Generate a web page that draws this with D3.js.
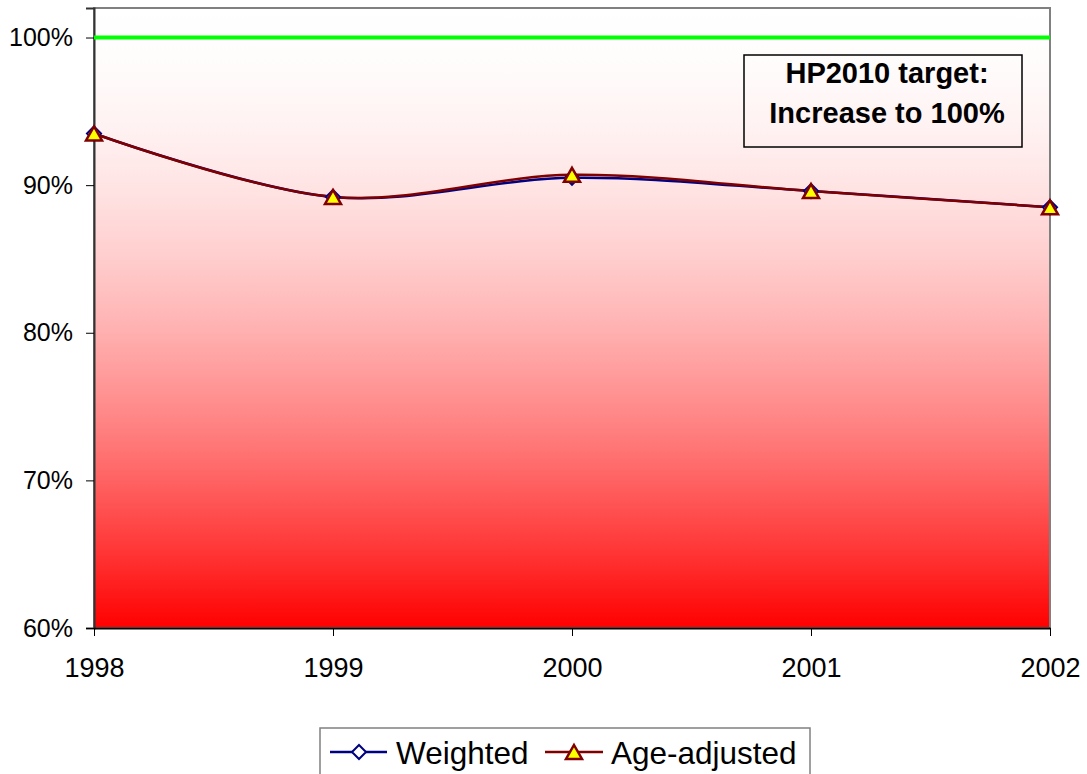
<!DOCTYPE html>
<html>
<head>
<meta charset="utf-8">
<script src="https://cdn.jsdelivr.net/npm/d3@7"></script>
<style>
  body { margin: 0; background: #fff; }
  svg { display: block; font-family: "Liberation Sans", Arial, sans-serif; }
</style>
</head>
<body>
<svg id="svg" width="1087" height="774"></svg>
<script>
// chart data
const years = ["1998", "1999", "2000", "2001", "2002"];
const weighted = [93.5, 89.2, 90.5, 89.6, 88.5];
const ageAdjusted = [93.5, 89.2, 90.7, 89.6, 88.5];
const yTicks = [60, 70, 80, 90, 100];
const target = 100;
const boxLines = ["HP2010 target:", "Increase to 100%"];

var margin = {top: 8, right: 37, bottom: 146, left: 94};
var width = 1087 - margin.left - margin.right;
var height = 774 - margin.top - margin.bottom;

const svg = d3.select("#svg");

var x = d3.scalePoint().domain(years).range([0, width]);
var y = d3.scaleLinear().domain([60, 102]).range([height, 0]);

// background gradient, white at top fading into red (non-linear like the original)
let grad = svg.append("defs").append("linearGradient")
  .attr("id", "bg").attr("x1", 0).attr("y1", 0).attr("x2", 0).attr("y2", 1);
let mix = d3.interpolateRgb("#ffffff", "#ff0000");
grad.selectAll("stop").data(d3.range(0, 1.0001, 0.1)).enter().append("stop")
  .attr("offset", d => (d * 100) + "%")
  .attr("stop-color", d => mix(Math.pow(d, 1.8)));

const g = svg.append("g")
  .attr("transform", "translate(" + margin.left + "," + margin.top + ")");

g.append("rect")
  .attr("width", width).attr("height", height)
  .style("fill", "url(#bg)")
  .style("stroke", "#808080").style("stroke-width", 2);

// y axis
g.append("g")
  .call(d3.axisLeft(y).tickValues(yTicks).tickSize(8).tickPadding(13)
    .tickFormat(d => d + "%"))
  .call(a => a.select(".domain").attr("stroke", "#333").attr("stroke-width", 2))
  .call(a => a.selectAll("text").style("font-size", "25px").attr("fill", "#000"));

// x axis
g.append("g")
  .attr("transform", "translate(0," + height + ")")
  .call(d3.axisBottom(x).tickSize(8).tickPadding(22).tickSizeOuter(0))
  .call(a => a.select(".domain").attr("stroke", "#000").attr("stroke-width", 2))
  .call(a => a.selectAll("text").style("font-size", "27px").attr("fill", "#000"));

// target line
g.append("line")
  .attr("x1", 0).attr("x2", width)
  .attr("y1", y(target)).attr("y2", y(target))
  .attr("stroke", "#00ff00").attr("stroke-width", 4);

// series
var line = d3.line()
  .x((d, i) => x(years[i]))
  .y(d => y(d))
  .curve(d3.curveCatmullRom.alpha(0.5));

g.append("path").datum(weighted)
  .attr("d", line).attr("fill", "none")
  .attr("stroke", "#000080").attr("stroke-width", 2.5);

g.append("path").datum(ageAdjusted)
  .attr("d", line).attr("fill", "none")
  .attr("stroke", "#800000").attr("stroke-width", 2.5);

const diamond = "M0,-7L7,0L0,7L-7,0Z";
const triangle = "M0,-8L8,6L-8,6Z";

g.selectAll(".dia").data(weighted).enter().append("path")
  .attr("class", "dia")
  .attr("transform", (d, i) => "translate(" + x(years[i]) + "," + y(d) + ")")
  .attr("d", diamond)
  .attr("fill", "#fff").attr("stroke", "#000080").attr("stroke-width", 2);

g.selectAll(".tri").data(ageAdjusted).enter().append("path")
  .attr("class", "tri")
  .attr("transform", (d, i) => "translate(" + x(years[i]) + "," + (y(d) + 1) + ")")
  .attr("d", triangle)
  .attr("fill", "#ffff00").attr("stroke", "#800000").attr("stroke-width", 2.5);

// annotation box
const box = svg.append("g");
box.append("rect")
  .attr("x", 744).attr("y", 55).attr("width", 278).attr("height", 92)
  .attr("fill", "none").attr("stroke", "#000").attr("stroke-width", 1.5);
box.selectAll("text").data(boxLines).enter().append("text")
  .attr("x", 887).attr("y", (d, i) => 83 + i * 40)
  .attr("text-anchor", "middle")
  .style("font-size", "29px").style("font-weight", "bold")
  .text(d => d);

// legend
const legend = svg.append("g");
legend.append("rect")
  .attr("x", 320).attr("y", 728).attr("width", 490).attr("height", 60)
  .attr("fill", "#fff").attr("stroke", "#808080").attr("stroke-width", 1.5);

legend.append("line").attr("x1", 330).attr("x2", 387).attr("y1", 752).attr("y2", 752)
  .attr("stroke", "#000080").attr("stroke-width", 2.5);
legend.append("path").attr("transform", "translate(359,752)").attr("d", diamond)
  .attr("fill", "#fff").attr("stroke", "#000080").attr("stroke-width", 2);
legend.append("text").attr("x", 396).attr("y", 764)
  .style("font-size", "31.5px").text("Weighted");

legend.append("line").attr("x1", 545).attr("x2", 603).attr("y1", 752).attr("y2", 752)
  .attr("stroke", "#800000").attr("stroke-width", 2.5);
legend.append("path").attr("transform", "translate(574,753)").attr("d", triangle)
  .attr("fill", "#ffff00").attr("stroke", "#800000").attr("stroke-width", 2.5);
legend.append("text").attr("x", 611).attr("y", 764)
  .style("font-size", "31.5px").text("Age-adjusted");
</script>
</body>
</html>
